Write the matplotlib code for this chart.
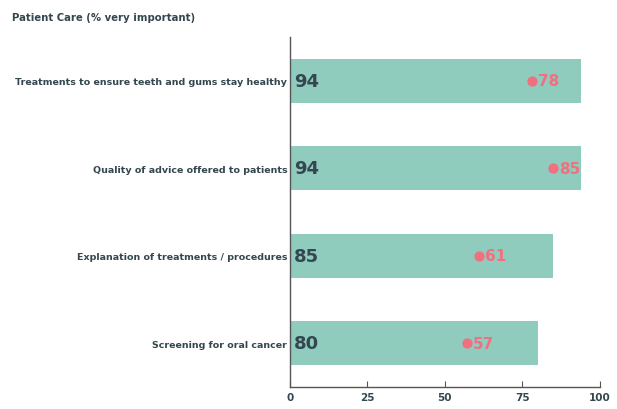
import matplotlib
matplotlib.use("Agg")
import matplotlib.pyplot as plt

categories = [
    "Treatments to ensure teeth and gums stay healthy",
    "Quality of advice offered to patients",
    "Explanation of treatments / procedures",
    "Screening for oral cancer",
]
bar_values = [94, 94, 85, 80]
dot_values = [78, 85, 61, 57]
x_ticks = [0, 25, 50, 75, 100]
title = "Patient Care (% very important)"

bar_color = "#8FCCBE"
dot_color = "#F07080"
text_dark = "#34474F"

fig = plt.figure(figsize=(6.17, 4.10), dpi=100)
ax = fig.add_axes([0.470, 0.054, 0.502, 0.853])

ypos = list(range(len(categories)))
ax.barh(ypos, bar_values, height=0.5, color=bar_color, zorder=2)
ax.scatter(dot_values, ypos, s=55, color=dot_color, zorder=3, linewidths=0)

for y, v in zip(ypos, bar_values):
    ax.text(1.2, y, str(v), va="center", ha="left", fontsize=13,
            fontweight="bold", color=text_dark, zorder=4)
for y, v in zip(ypos, dot_values):
    ax.text(v + 2.0, y, str(v), va="center", ha="left", fontsize=11,
            fontweight="bold", color=dot_color, zorder=4)

ax.set_xlim(0, 100)
ax.set_ylim(3.5, -0.5)
ax.set_yticks(ypos)
ax.set_yticklabels(categories, fontsize=6.8, fontweight="bold", color=text_dark)
ax.set_xticks(x_ticks)
ax.set_xticklabels([str(t) for t in x_ticks], fontsize=7.5, fontweight="bold", color=text_dark)
ax.tick_params(axis="y", length=0, pad=2)
ax.tick_params(axis="x", direction="in", length=4, color="#555555", pad=4)

for s in ["top", "right"]:
    ax.spines[s].set_visible(False)
for s in ["left", "bottom"]:
    ax.spines[s].set_color("#555555")
    ax.spines[s].set_linewidth(1.0)

fig.text(0.02, 0.955, title, fontsize=7.3, fontweight="bold", color=text_dark,
         ha="left", va="center")

fig.savefig("out.png", dpi=100)
